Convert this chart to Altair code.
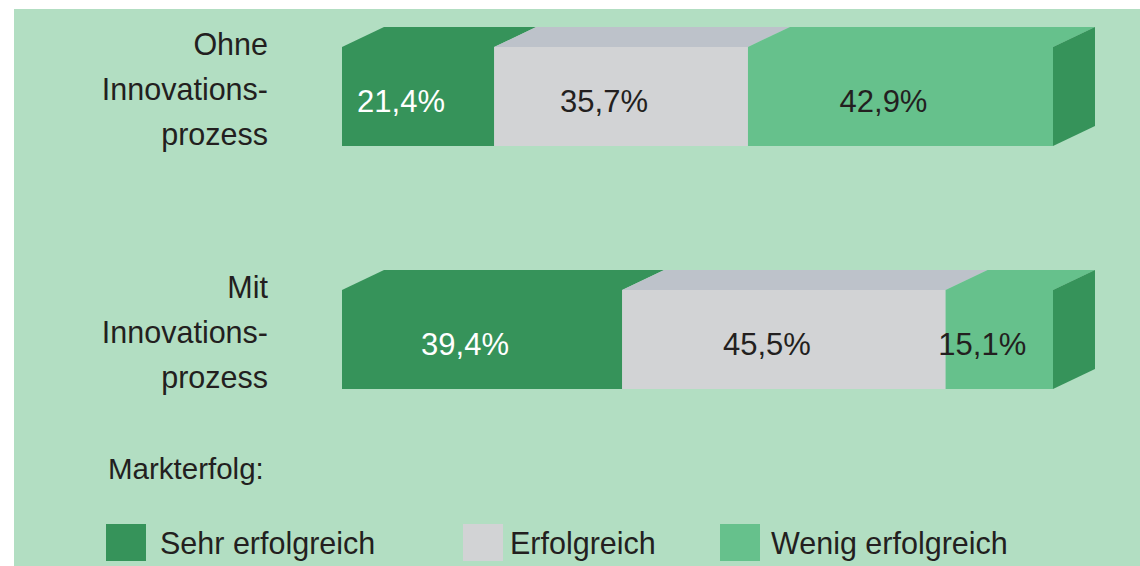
import altair as alt
import pandas as pd

# ---------------- data ----------------
row_labels = ["Ohne\nInnovations-\nprozess", "Mit\nInnovations-\nprozess"]
categories = ["Sehr erfolgreich", "Erfolgreich", "Wenig erfolgreich"]
ohne_values = [21.4, 35.7, 42.9]
mit_values = [39.4, 45.5, 15.1]
legend_title = "Markterfolg:"

# ---------------- style / layout ----------------
FRONT = {"Sehr erfolgreich": "#36935A", "Erfolgreich": "#D2D3D5", "Wenig erfolgreich": "#66C18C"}
TOP = {"Sehr erfolgreich": "#36935A", "Erfolgreich": "#BDC2CA", "Wenig erfolgreich": "#66C18C"}
SIDE = "#36935A"
BG = "#B2DEC2"
INK = "#231F20"
FONT = "Liberation Sans"

W, H = 1140, 566
BAR_L, BAR_R = 342, 1053          # pixel extent of 0..100 %
ROW0, ROW_STEP = 96.5, 243        # pixel centre of first row, pixels per row
KX = (BAR_R - BAR_L) / 100.0
HALF = 49.5 / ROW_STEP            # half bar thickness (row units)
DX = 42 / KX                      # 3D depth in % units
DY = 20 / ROW_STEP                # 3D depth in row units
LEGEND_X = [106, 463, 720]        # legend swatch left edges (px)
LEGEND_TEXT_X = [160, 510, 771]   # legend label left edges (px)
LEGEND_Y = 542.5                  # legend row centre (px)
SW_W, SW_H = 40, 37

xs = alt.Scale(domain=[-BAR_L / KX, (W - BAR_L) / KX], range=[0, W], nice=False, zero=False)
ys = alt.Scale(domain=[-ROW0 / ROW_STEP, (H - ROW0) / ROW_STEP], range=[0, H], nice=False, zero=False)

# ---------------- tables built from the arrays ----------------
front, tops, sides, rows = [], [], [], []
for i, (rl, vals) in enumerate(zip(row_labels, [ohne_values, mit_values])):
    rows.append({"row": i, "name": rl})
    T, B = i - HALF, i + HALF
    start = 0.0
    for c, v in zip(categories, vals):
        end = start + v
        front.append({"row": i, "cat": c, "x0": start, "x1": end, "yt": T, "yb": B,
                      "mid": (start + end) / 2, "label": f"{v:.1f}".replace(".", ",") + "%"})
        pid = f"{i}-{c}"
        pts = [(start, T, T), (start + DX, T, T - DY), (end, T, T - DY), (end + DX, T - DY, T - DY)]
        for k, (px, py, py2) in enumerate(pts):
            tops.append({"pid": pid, "cat": c, "k": k, "tx": px, "ty": py, "ty2": py2})
        start = end
    sides.append({"pid": f"s{i}", "k": 0, "sx": start, "sy": B, "sy2": T})
    sides.append({"pid": f"s{i}", "k": 1, "sx": start + DX, "sy": B - DY, "sy2": T - DY})

front_df = pd.DataFrame(front)
tops_df = pd.DataFrame(tops)
sides_df = pd.DataFrame(sides)
rows_df = pd.DataFrame(rows)
legend_df = pd.DataFrame({"cat": categories, "lx": LEGEND_X, "tx": LEGEND_TEXT_X})
legend_df["lx2"] = legend_df["lx"] + SW_W

color_scale = alt.Scale(domain=categories, range=[FRONT[c] for c in categories])
top_scale = alt.Scale(domain=categories, range=[TOP[c] for c in categories])

# ---------------- layers ----------------
background = alt.Chart(pd.DataFrame({"a": [0]})).mark_rect(color=BG).encode(
    x=alt.value(14), x2=alt.value(W), y=alt.value(9), y2=alt.value(H)
)

front_layer = alt.Chart(front_df).mark_rect().encode(
    x=alt.X("x0:Q", scale=xs, axis=None),
    x2="x1:Q",
    y=alt.Y("yt:Q", scale=ys, axis=None),
    y2="yb:Q",
    color=alt.Color("cat:N", scale=color_scale, legend=None),
)

top_layer = alt.Chart(tops_df).mark_area(opacity=1, interpolate="linear").encode(
    x=alt.X("tx:Q", scale=xs, axis=None),
    y=alt.Y("ty:Q", scale=ys, axis=None, stack=None),
    y2=alt.Y2("ty2:Q"),
    fill=alt.Fill("cat:N", scale=top_scale, legend=None),
    detail="pid:N",
)

side_layer = alt.Chart(sides_df).mark_area(color=SIDE, opacity=1, interpolate="linear").encode(
    x=alt.X("sx:Q", scale=xs, axis=None),
    y=alt.Y("sy:Q", scale=ys, axis=None, stack=None),
    y2=alt.Y2("sy2:Q"),
    detail="pid:N",
)

value_labels = alt.Chart(front_df).mark_text(
    font=FONT, fontSize=31, dx=-17, dy=6, baseline="middle", align="center"
).encode(
    x=alt.X("mid:Q", scale=xs, axis=None),
    y=alt.Y("row:Q", scale=ys, axis=None),
    text="label:N",
    color=alt.condition(alt.datum.cat == "Sehr erfolgreich", alt.value("#FFFFFF"), alt.value(INK)),
)

row_text = alt.Chart(rows_df).mark_text(
    font=FONT, fontSize=30.5, align="right", baseline="middle", lineBreak="\n", lineHeight=45, dy=-51, color=INK
).encode(
    x=alt.value(268),
    y=alt.Y("row:Q", scale=ys, axis=None),
    text="name:N",
)

legend_swatches = alt.Chart(legend_df).mark_rect().encode(
    x=alt.X("lx:Q", scale=None),
    x2="lx2:Q",
    y=alt.value(LEGEND_Y - SW_H / 2),
    y2=alt.value(LEGEND_Y + SW_H / 2),
    color=alt.Color("cat:N", scale=color_scale, legend=None),
)

legend_labels = alt.Chart(legend_df).mark_text(
    font=FONT, fontSize=30.5, align="left", baseline="middle", color=INK, dy=2
).encode(
    x=alt.X("tx:Q", scale=None),
    y=alt.value(LEGEND_Y),
    text="cat:N",
)

legend_head = alt.Chart(pd.DataFrame({"t": [legend_title]})).mark_text(
    font=FONT, fontSize=29.5, align="left", baseline="middle", color=INK
).encode(
    x=alt.value(108),
    y=alt.value(470),
    text="t:N",
)

chart = alt.layer(
    background, front_layer, top_layer, side_layer, value_labels, row_text,
    legend_swatches, legend_labels, legend_head
).properties(
    width=W, height=H, padding=0, autosize=alt.AutoSizeParams(type="none"), background="#FFFFFF"
).configure_view(stroke=None).resolve_scale(fill="independent", color="independent")

chart.save("out.html", embed_options={"renderer": "svg", "actions": False})
